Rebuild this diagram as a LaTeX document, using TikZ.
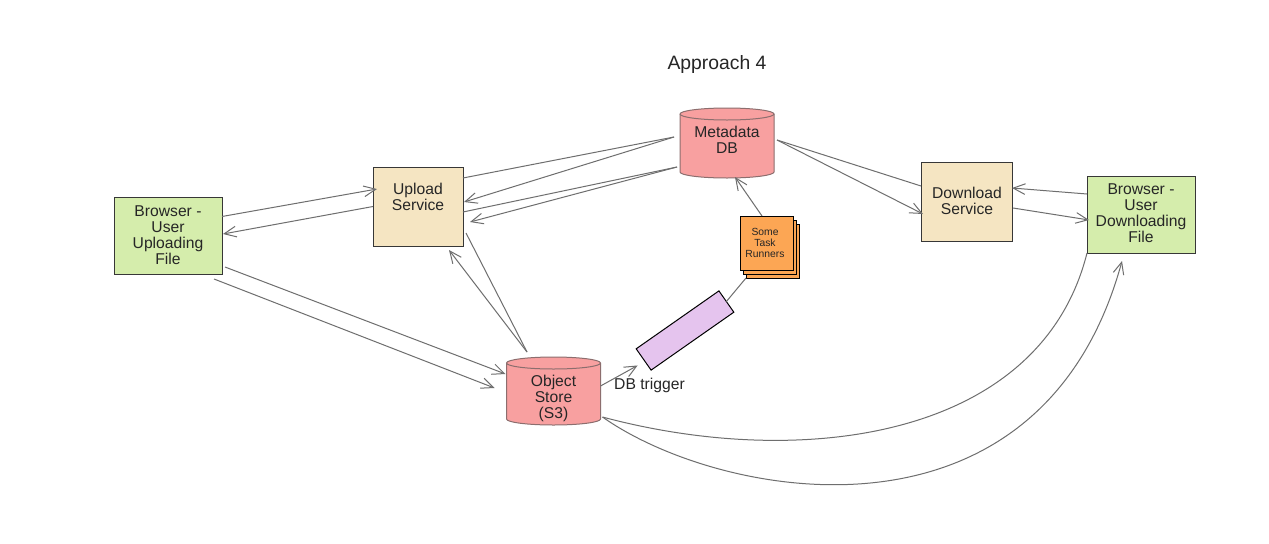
\documentclass[tikz,border=0pt]{standalone}
\usepackage{fontspec}
\setmainfont{Liberation Sans}
\usetikzlibrary{arrows.meta,calc}
\definecolor{cgreen}{RGB}{213,237,172}
\definecolor{ctan}{RGB}{245,229,194}
\definecolor{cred}{RGB}{248,160,160}
\definecolor{corange}{RGB}{252,166,84}
\definecolor{cpurple}{RGB}{229,196,238}
\definecolor{cline}{RGB}{110,110,110}
\definecolor{cedge}{RGB}{55,55,55}
\definecolor{ccyl}{RGB}{140,110,110}
\newcommand{\mycyl}[1]{%
  \filldraw[cylsty] ($(#1.north west)+(0,6)$) -- ($(#1.south west)+(0,-6)$)
    arc[start angle=180,end angle=360,x radius=35.25pt,y radius=4.5pt]
    -- ($(#1.north east)+(0,6)$)
    arc[start angle=0,end angle=180,x radius=35.25pt,y radius=4.5pt] -- cycle;
  \draw[cylsty,fill=none] ($(#1.north west)+(0,6)$)
    arc[start angle=180,end angle=360,x radius=35.25pt,y radius=4.5pt];
}
\begin{document}
\begin{tikzpicture}[x=0.75pt,y=-0.75pt,
  box/.style={draw=cedge,line width=0.75pt,inner sep=0pt,outer sep=0pt},
  txt/.style={align=center,inner sep=0pt,text=black!85,font=\fontsize{11.75}{12}\selectfont},
  cylbox/.style={inner sep=0pt,outer sep=0pt,minimum width=70.5pt},
  cylsty/.style={draw=ccyl,fill=cred,line width=0.75pt},
  conn/.style={draw=cline,line width=0.75pt},
  arr/.style={conn,-{Straight Barb[length=9pt,width=8pt]}},
  trbox/.style={box,draw=black,fill=corange,minimum width=39.75pt,minimum height=40.5pt}]
\fill[white] (0,0) rectangle (1269,543);
\useasboundingbox (0,0) rectangle (1269,543);

% title
\node[font=\fontsize{14.5}{17}\selectfont,text=black!85,inner sep=0pt] (title) at (717,64) {Approach 4};

% boxes
\node[box,fill=cgreen,minimum width=81pt,minimum height=57.75pt] (bup) at (168,235.5) {};
\node[txt] (bupT) at (168,235) {Browser -\\User\\Uploading\\File};
\node[box,fill=ctan,minimum width=67.5pt,minimum height=59.25pt] (ups) at (418,206.5) {};
\node[txt] (upsT) at (418,197) {Upload\\Service};
\node[box,fill=ctan,minimum width=68.25pt,minimum height=59.25pt] (dls) at (966.5,201.5) {};
\node[txt] (dlsT) at (967,201) {Download\\Service};
\node[box,fill=cgreen,minimum width=81pt,minimum height=57.75pt] (bdl) at (1141,214.5) {};
\node[txt] (bdlT) at (1141,213.5) {Browser -\\User\\Downloading\\File};

% cylinders
\node[cylbox,minimum height=52.5pt] (md) at (727,143) {};
\mycyl{md}
\node[txt] (mdT) at (727,139.5) {Metadata\\DB};
\node[cylbox,minimum height=51pt] (os) at (553.5,391) {};
\mycyl{os}
\node[txt] (osT) at (553.5,398) {Object\\Store\\(S3)};

% task runners
\node[trbox] (tr3) at (772.5,251) {};
\node[trbox] (tr2) at (769.5,247) {};
\node[trbox] (tr) at (766.5,243) {};
\node[align=center,inner sep=0pt,text=black!85,font=\fontsize{7.75}{8.25}\selectfont] (trT) at (765,243) {Some\\Task\\Runners};

% trigger
\node[box,draw=black,fill=cpurple,minimum width=75.75pt,minimum height=19.5pt,rotate=35] (trig) at (685,330.5) {};
\node[txt,anchor=center] (lbl) at (649.5,385) {DB trigger};

% browser upload <-> upload service
\draw[arr] ($(bup.north east)+(0,19.5)$) -- ($(ups.north west)+(4,22)$);
\draw[arr] (ups.west) -- ($(bup.east)+(1,-1.5)$);

% upload service <-> metadata
\coordinate (mdA) at ($(md.west)+(-6,-6)$);
\coordinate (mdB) at ($(md.south west)+(-3,-11)$);
\draw[conn] ($(ups.north east)+(0,11)$) -- (mdA);
\draw[arr] (mdA) -- ($(ups.east)+(1,-4.5)$);
\draw[conn] ($(ups.east)+(0,5.5)$) -- (mdB);
\draw[arr] (mdB) -- ($(ups.east)+(7,15.5)$);

% metadata <-> download service
\coordinate (mdC) at ($(md.east)+(3,-3)$);
\draw[conn] (mdC) -- ($(dls.west)+(0,-15.5)$);
\draw[arr] (mdC) -- ($(dls.west)+(2,12.5)$);

% download service <-> browser download
\draw[arr] ($(bdl.west)+(0,-20.5)$) -- ($(dls.east)+(0,-13.5)$);
\draw[arr] ($(dls.east)+(1,6.5)$) -- ($(bdl.west)+(2,5.5)$);

% browser upload -> object store
\draw[arr] ($(bup.south east)+(3,-7)$) -- ($(os.west)+(-1,-17)$);
\draw[arr] ($(bup.south east)+(-8,5)$) -- ($(os.west)+(-12,-3)$);

% object store <-> upload service
\coordinate (osA) at ($(os.north)+(-26.5,-5)$);
\draw[conn] ($(ups.south east)+(3,-13)$) -- (osA);
\draw[arr] (osA) -- ($(ups.south east)+(-14,4)$);

% object store -> trigger
\draw[arr] ($(os.east)+(0,-5)$) -- ($(trig.west)+(-6,6)$);
% trigger -- task runners
\draw[conn] (trig.east) -- ($(tr.south west)+(6,8)$);
% task runners -> metadata
\draw[arr] ($(tr.north)+(-4.5,0)$) -- ($(md.south)+(8,-1)$);

% object store <-> browser download (curves)
\coordinate (osB) at ($(os.south east)+(2,-8)$);
\draw[conn] (bdl.south west) .. controls (1040,440) and (800,470) .. (osB);
\draw[arr] (osB) .. controls (720,500) and (1040,560) .. ($(bdl.south west)+(35,8)$);
\end{tikzpicture}
\end{document}
